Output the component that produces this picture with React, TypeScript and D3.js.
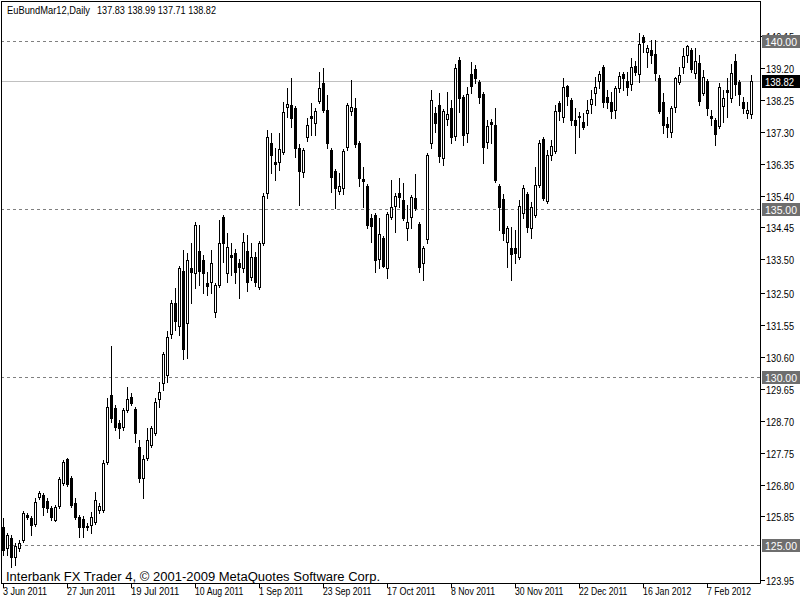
import React from "react";
import * as d3 from "d3";

const opens = [125.54,124.91,125.21,124.64,124.91,125.15,125.89,125.80,125.63,126.43,126.49,126.31,126.10,125.74,126.16,126.85,127.56,126.99,126.25,125.83,125.77,125.57,125.60,125.68,126.04,126.04,127.47,129.46,129.08,128.63,128.51,129.02,129.40,129.05,127.92,127.00,127.59,127.98,128.33,129.35,129.82,130.06,131.28,132.20,131.52,133.15,131.61,133.24,133.10,133.75,133.48,132.80,132.83,131.93,132.74,134.76,133.10,133.63,133.69,133.39,133.24,133.75,132.98,133.57,132.68,133.99,135.48,136.96,136.40,136.40,136.70,138.04,138.10,138.01,136.82,136.10,137.14,137.77,137.56,138.21,138.75,137.95,136.76,136.13,135.54,135.63,136.85,137.92,138.01,136.96,135.89,135.68,134.73,134.82,133.51,134.14,133.24,134.76,135.09,135.48,135.27,134.43,134.76,135.33,134.55,133.39,134.11,136.96,137.86,138.10,136.52,137.68,138.01,137.17,139.43,138.33,137.26,139.02,139.17,138.78,138.42,136.99,137.59,137.50,135.68,135.30,134.02,133.84,133.84,133.57,134.88,135.45,134.43,134.82,135.71,137.08,135.24,136.61,136.73,138.15,137.74,138.66,138.24,137.65,137.77,137.59,137.86,138.13,138.45,138.81,139.23,138.33,138.18,137.95,138.60,139.02,138.81,138.72,139.26,139.02,140.12,139.67,139.73,139.61,138.90,138.18,137.53,137.29,138.04,138.78,139.23,139.58,139.73,139.05,139.35,138.45,138.81,137.77,137.65,137.47,138.07,138.54,138.30,139.40,138.78,138.18,137.86,137.83];
const highs = [125.80,125.36,125.30,125.06,125.15,126.01,125.95,125.86,126.40,126.61,126.55,126.40,126.16,126.19,127.02,127.53,127.59,127.05,126.40,125.89,125.86,125.65,125.98,126.58,126.25,127.53,129.38,130.92,129.17,128.72,129.08,129.70,129.52,129.11,128.13,127.68,128.48,128.54,129.38,129.85,130.74,131.37,132.29,132.65,133.30,133.78,133.69,133.99,134.61,134.52,133.63,133.13,133.78,132.80,134.67,134.82,134.29,133.99,133.81,133.51,134.29,134.23,133.99,133.72,134.05,135.48,137.35,137.26,136.82,137.26,138.18,138.60,138.90,138.07,136.93,136.82,137.71,138.15,138.01,139.08,139.20,138.39,136.82,136.19,136.07,136.79,138.15,138.84,138.30,137.02,136.25,135.74,134.85,134.88,134.73,134.20,134.91,135.86,135.48,135.92,135.77,135.12,135.42,136.04,134.61,133.90,136.67,138.54,138.04,138.45,137.98,138.48,138.24,139.32,139.52,138.39,138.63,139.38,139.29,138.84,138.48,137.65,137.68,138.01,135.74,135.45,134.49,134.46,134.38,135.27,135.71,135.51,135.21,136.25,137.05,137.14,136.76,137.05,138.10,138.21,138.90,138.69,138.30,138.01,137.89,137.86,138.24,138.54,138.93,139.11,139.29,138.54,138.48,138.66,139.08,139.08,139.08,139.49,139.40,140.24,140.18,139.88,140.03,140.03,138.99,138.45,137.74,138.07,138.93,139.23,139.79,139.88,139.79,139.79,139.58,139.14,138.87,137.95,137.71,138.75,138.54,138.90,139.32,139.61,138.84,138.33,138.18,138.99];
const lows = [124.70,124.70,124.35,124.40,124.82,125.09,125.77,125.30,125.57,126.37,125.89,125.98,125.74,125.71,126.10,126.79,126.76,126.13,125.77,125.24,125.24,125.45,125.36,125.63,125.95,125.98,127.41,128.66,128.42,128.18,128.42,128.96,129.17,128.07,126.88,126.40,127.53,127.92,128.27,129.11,129.61,129.85,131.16,131.40,131.25,130.54,130.57,132.20,132.65,132.74,132.50,132.44,132.50,131.79,132.68,133.42,132.83,133.04,132.80,132.35,133.13,132.56,132.89,132.71,132.62,133.93,135.33,136.07,135.86,136.16,136.64,137.74,137.44,136.55,135.12,135.95,137.02,137.20,137.20,138.15,137.89,136.82,135.51,135.03,135.45,135.45,136.76,137.80,136.85,135.68,135.06,134.44,134.02,133.13,133.24,133.27,132.95,134.70,134.32,135.06,134.67,134.08,134.44,134.97,133.13,132.89,133.99,136.82,137.29,136.40,136.31,137.50,136.96,137.05,137.89,136.90,136.99,138.45,138.75,138.15,136.37,136.82,136.96,135.80,134.38,134.08,133.27,132.89,133.39,133.51,134.73,134.32,134.14,134.76,135.65,135.27,135.18,136.46,136.67,137.65,137.59,138.10,137.50,136.67,137.14,137.38,137.50,137.86,138.10,138.60,138.04,138.01,137.71,137.71,138.48,138.54,138.39,138.54,138.99,138.78,139.67,139.23,139.35,138.84,137.86,137.26,137.14,137.14,137.89,138.72,139.05,139.38,139.08,138.90,138.10,138.39,137.80,137.50,136.90,137.41,137.59,137.74,138.18,138.39,138.10,137.86,137.71,137.71];
const closes = [124.85,125.30,124.64,124.97,125.06,125.95,125.83,125.60,126.28,126.55,126.13,126.10,125.83,126.13,126.96,127.47,126.82,126.19,125.83,125.54,125.54,125.55,125.83,126.34,126.16,127.44,129.11,128.78,128.51,128.48,129.02,129.35,129.23,128.33,127.00,127.56,128.13,128.48,129.26,129.55,130.68,131.19,132.20,131.67,133.24,130.83,133.48,133.13,134.52,133.15,133.10,132.71,133.39,132.74,133.99,133.99,133.87,133.57,133.13,133.27,134.02,132.83,133.57,132.83,133.99,135.39,137.14,136.61,136.34,136.79,137.89,138.13,137.71,136.82,136.13,136.76,137.50,137.71,137.92,138.60,137.95,136.96,135.95,135.63,135.68,136.73,138.10,138.04,136.93,135.92,135.83,134.52,134.49,133.48,134.26,133.30,134.85,135.06,135.39,135.36,134.73,134.61,135.36,135.03,133.27,133.84,136.61,138.24,137.56,136.58,137.92,137.83,137.14,139.20,138.30,137.20,138.42,138.66,138.90,138.33,136.85,137.47,137.53,135.86,135.06,134.29,134.43,133.66,133.69,135.09,135.63,134.46,135.06,135.71,136.96,135.33,136.61,136.87,137.92,137.92,138.63,138.36,137.65,137.50,137.74,137.44,137.95,138.27,138.63,139.02,138.18,138.18,137.92,138.60,138.96,138.90,138.63,139.23,139.08,139.91,139.97,139.79,139.58,139.05,137.92,137.50,137.44,138.01,138.90,138.99,139.55,139.85,139.17,139.40,138.21,138.93,138.01,137.71,137.23,138.63,138.30,138.48,139.05,138.72,138.42,138.01,137.95,138.82];

const dateLabels = ["3 Jun 2011","27 Jun 2011","19 Jul 2011","10 Aug 2011","1 Sep 2011","23 Sep 2011","17 Oct 2011","8 Nov 2011","30 Nov 2011","22 Dec 2011","16 Jan 2012","7 Feb 2012"];
const dateBarIndex = [0,16,32,48,64,80,96,112,128,144,160,176];
const priceTicks = ["140.15","139.20","138.25","137.30","136.35","135.40","134.45","133.50","132.50","131.55","130.60","129.65","128.70","127.75","126.80","125.85","123.95"];
const levels = [140, 135, 130, 125];
const bid = 138.82;
const symbolTitle = "EuBundMar12,Daily";
const titleValues = "137.83 138.99 137.71 138.82";
const copyright = "Interbank FX Trader 4, \u00A9 2001-2009 MetaQuotes Software Corp.";

const FONT = "'Liberation Sans', Arial, sans-serif";

export default function App() {
  const W = 800, H = 600;
  const left = 1, right = 760, top = 1, bottom = 583;
  const y = d3.scaleLinear().domain([125, 140]).range([545, 41]);
  const x = d3.scaleLinear().domain([0, opens.length - 1]).range([3, 3 + 4 * (opens.length - 1)]);
  const px = (v: number) => Math.round(v) + 0.5;

  return (
    <svg width={W} height={H} style={{ position: "fixed", left: 0, top: 0, background: "#fff" }} fontFamily={FONT}>
      <rect x={0} y={0} width={W} height={H} fill="#fff" />
      {levels.map((l) => (
        <line key={"lv" + l} x1={left} x2={right} y1={px(y(l))} y2={px(y(l))} stroke="#808080" strokeDasharray="3,3" strokeWidth={1} />
      ))}
      <line x1={left} x2={right} y1={px(y(bid))} y2={px(y(bid))} stroke="#c0c0c0" strokeWidth={1} />
      {opens.map((o, i) => {
        const c = closes[i];
        const cx = Math.round(x(i)) + 0.5;
        const bt = Math.round(y(Math.max(o, c)));
        const bb = Math.round(y(Math.min(o, c)));
        const bull = c >= o;
        return (
          <g key={i}>
            <line x1={cx} x2={cx} y1={px(y(highs[i])) - 0.5} y2={px(y(lows[i])) + 0.5} stroke="#000" strokeWidth={1} />
            {bb - bt < 1 ? (
              <line x1={cx - 1.5} x2={cx + 1.5} y1={bt + 0.5} y2={bt + 0.5} stroke="#000" strokeWidth={1} />
            ) : (
              <rect x={cx - 1} y={bt + 0.5} width={2} height={bb - bt} fill={bull ? "#fff" : "#000"} stroke="#000" strokeWidth={1} />
            )}
          </g>
        );
      })}
      <line x1={left + 0.5} x2={left + 0.5} y1={top} y2={bottom + 0.5} stroke="#000" />
      <line x1={left} x2={right + 0.5} y1={top + 0.5} y2={top + 0.5} stroke="#000" />
      <line x1={right + 0.5} x2={right + 0.5} y1={top} y2={bottom + 0.5} stroke="#000" />
      <line x1={left} x2={right + 0.5} y1={bottom + 0.5} y2={bottom + 0.5} stroke="#000" />
      <text x={7} y={14} fontSize={11} fill="#000" textLength={83} lengthAdjust="spacingAndGlyphs">{symbolTitle}</text>
      <text x={97} y={14} fontSize={11} fill="#000" textLength={119} lengthAdjust="spacingAndGlyphs">{titleValues}</text>
      {priceTicks.map((t) => {
        const yy = px(y(+t));
        return (
          <g key={"pt" + t}>
            <line x1={right + 1} x2={right + 5} y1={yy} y2={yy} stroke="#000" />
            <text x={766} y={yy + 4} fontSize={11} fill="#000" textLength={28} lengthAdjust="spacingAndGlyphs">{t}</text>
          </g>
        );
      })}
      {levels.map((l) => {
        const yy = Math.round(y(l));
        return (
          <g key={"lb" + l}>
            <rect x={762} y={yy - 6} width={38} height={13} fill="#6e6e6e" />
            <text x={765} y={yy + 5} fontSize={11.5} fill="#fff" textLength={32} lengthAdjust="spacingAndGlyphs">{l.toFixed(2)}</text>
          </g>
        );
      })}
      <g>
        <rect x={762} y={Math.round(y(bid)) - 6} width={38} height={13} fill="#000" />
        <text x={765} y={Math.round(y(bid)) + 5} fontSize={11} fill="#fff" textLength={29} lengthAdjust="spacingAndGlyphs">{bid.toFixed(2)}</text>
      </g>
      {dateBarIndex.map((bi, k) => {
        const xx = Math.round(x(bi)) + 0.5;
        const label = dateLabels[k];
        return (
          <g key={"dt" + k}>
            <line x1={xx} x2={xx} y1={bottom} y2={bottom + 5} stroke="#000" />
            <text x={xx - 0.5} y={595} fontSize={11} fill="#000" textLength={label.length * 4.4} lengthAdjust="spacingAndGlyphs">{label}</text>
          </g>
        );
      })}
      <text x={6} y={581} fontSize={12.5} fill="#000" textLength={374} lengthAdjust="spacingAndGlyphs">{copyright}</text>
    </svg>
  );
}
